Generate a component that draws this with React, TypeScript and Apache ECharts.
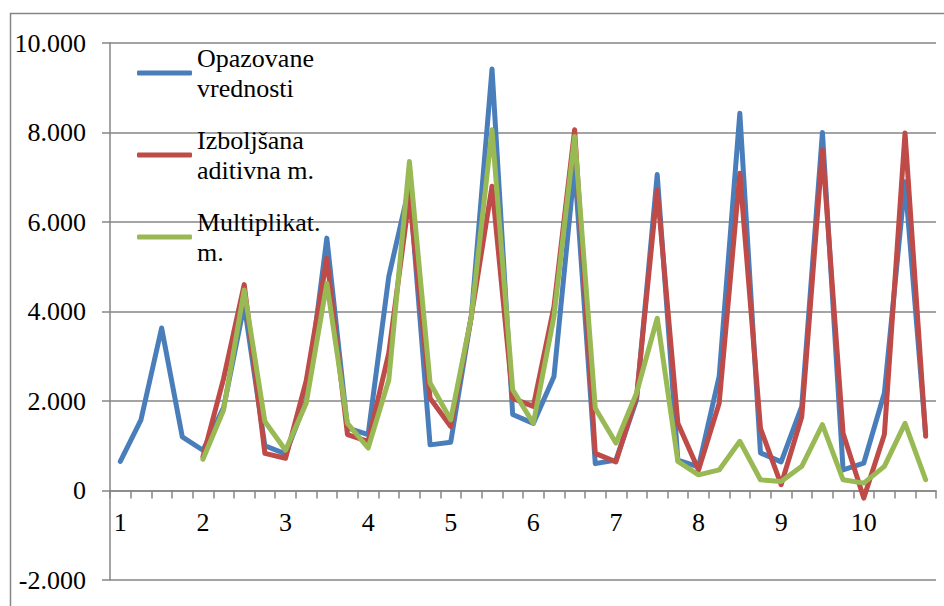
import React, { useEffect, useRef } from "react";
import * as echarts from "echarts";

const yearLabels = ["1", "2", "3", "4", "5", "6", "7", "8", "9", "10"];
const quartersPerYear = 4;

const seriesNames = ["Opazovane\nvrednosti", "Izboljšana\naditivna m.", "Multiplikat.\nm."];
const seriesColors = ["#4a7ebb", "#be4b48", "#98b954"];

const observed = [
  650, 1580, 3630, 1200,
  900, 1850, 4150, 1000,
  820, 2000, 5640, 1400,
  1250, 4780, 6800, 1020,
  1080, 3900, 9420, 1700,
  1500, 2550, 7240, 600,
  680, 2030, 7060, 680,
  530, 2550, 8430, 840,
  640, 1880, 8000, 460,
  610, 2180, 6900, 1250,
];

const additive = [
  null, null, null, null,
  750, 2500, 4600, 830,
  720, 2450, 5190, 1250,
  1100, 3070, 6570, 2060,
  1430, 3900, 6800, 2060,
  1880, 4110, 8060, 830,
  640, 2100, 6720, 1500,
  460, 1950, 7090, 1390,
  130, 1650, 7610, 1280,
  -170, 1250, 7990, 1210,
];

const multiplicative = [
  null, null, null, null,
  700, 1800, 4480, 1540,
  900, 1950, 4630, 1500,
  950, 2470, 7350, 2400,
  1580, 3890, 8060, 2250,
  1500, 3890, 7910, 1840,
  1060, 2180, 3850, 650,
  350, 460, 1100, 240,
  200, 540, 1470, 240,
  165, 540, 1500, 240,
];

const yMin = -2000;
const yMax = 10000;
const yStep = 2000;

function formatThousands(v: number): string {
  const s = Math.abs(v).toString().replace(/\B(?=(\d{3})+(?!\d))/g, ".");
  return (v < 0 ? "-" : "") + s;
}

export default function App() {
  const ref = useRef<HTMLDivElement>(null);

  useEffect(() => {
    if (!ref.current) return;
    const chart = echarts.init(ref.current, null, { renderer: "svg" });

    const categories: string[] = [];
    yearLabels.forEach((y) => {
      for (let q = 1; q <= quartersPerYear; q++) categories.push(`${y}-${q}`);
    });

    const font = "Times New Roman, Liberation Serif, DejaVu Serif, serif";
    const fontSize = 26;
    const gray = "#868686";
    const allData = [observed, additive, multiplicative];

    chart.setOption({
      animation: false,
      backgroundColor: "#ffffff",
      textStyle: { fontFamily: font },
      graphic: [
        {
          type: "rect",
          shape: { x: 10.5, y: 13.5, width: 1000, height: 1000 },
          style: { fill: "none", stroke: gray, lineWidth: 1.5 },
          silent: true,
          z: -1,
        },
      ],
      grid: {
        left: 110,
        right: 8,
        top: 43,
        bottom: 26,
        containLabel: false,
        outerBoundsMode: "none",
      },
      legend: {
        orient: "vertical",
        left: 137,
        top: 28,
        padding: 0,
        itemGap: -8,
        itemWidth: 55,
        itemHeight: 5,
        icon: "roundRect",
        selectedMode: false,
        data: seriesNames,
        textStyle: {
          fontFamily: font,
          fontSize,
          lineHeight: 30,
          color: "#000",
          padding: [30, 0, 0, 0],
        },
      },
      xAxis: {
        type: "category",
        data: categories,
        boundaryGap: true,
        axisLine: { onZero: true, lineStyle: { color: gray, width: 1.5 } },
        axisTick: { show: true, interval: 0, length: 8, lineStyle: { color: gray, width: 1.5 } },
        axisLabel: {
          interval: quartersPerYear - 1,
          margin: -71,
          fontSize,
          fontFamily: font,
          color: "#000",
          formatter: (v: string) => v.split("-")[0],
        },
        splitLine: { show: false },
      },
      yAxis: {
        type: "value",
        min: yMin,
        max: yMax,
        interval: yStep,
        axisLine: { show: true, lineStyle: { color: gray, width: 1.5 } },
        axisTick: { show: true, length: 8, lineStyle: { color: gray, width: 1.5 } },
        axisLabel: {
          margin: 24,
          fontSize,
          fontFamily: font,
          color: "#000",
          formatter: (v: number) => formatThousands(v),
        },
        splitLine: { show: true, lineStyle: { color: gray, width: 1.5 } },
      },
      series: seriesNames.map((name, i) => ({
        name,
        type: "line",
        data: allData[i],
        symbol: "none",
        color: seriesColors[i],
        lineStyle: { color: seriesColors[i], width: 5, cap: "round", join: "round" },
        z: 2 + i,
      })),
    });

    return () => chart.dispose();
  }, []);

  return (
    <div
      ref={ref}
      style={{ position: "absolute", left: 0, top: 0, width: 944, height: 606 }}
    />
  );
}
